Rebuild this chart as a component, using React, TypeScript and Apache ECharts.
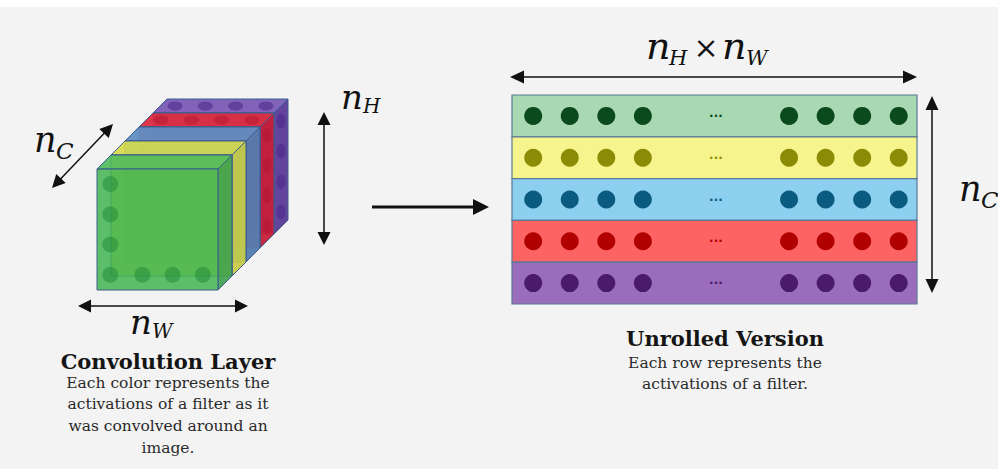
import React, { useEffect, useRef } from "react";
import * as echarts from "echarts";

// ---- Unrolled version data ----
const rowNames = ["Filter 1", "Filter 2", "Filter 3", "Filter 4", "Filter 5"];
const rowFill = ["#a9d9b3", "#f6f48d", "#8dcfee", "#fd6363", "#9a6cbc"];
const rowDot = ["#0b4a1d", "#8b8b05", "#0b5b80", "#b10000", "#4a1b6a"];
const dotColumns = [0, 1, 2, 3, 7, 8, 9, 10];
const ellipsisColumn = 5;
const columnMin = -0.58;
const columnMax = 10.5;

// ---- Convolution layer (cube) data, front to back ----
const cubeLayers = ["green", "yellow", "blue", "red", "purple"];
const layerFront = ["rgba(66,180,80,0.86)", "rgba(214,216,74,0.9)", "rgba(60,168,228,0.9)", "rgba(220,40,62,0.9)", "rgba(112,84,176,0.92)"];
const layerTop = ["rgba(80,186,90,0.9)", "rgba(214,216,76,0.92)", "rgba(96,142,194,0.95)", "rgba(220,44,64,0.95)", "rgba(122,92,182,0.95)"];
const layerSide = ["rgba(60,160,76,0.9)", "rgba(200,202,68,0.92)", "rgba(84,124,176,0.95)", "rgba(198,30,56,0.95)", "rgba(90,58,152,0.95)"];
const cubeDotColor = ["rgba(24,130,50,0.55)", "", "", "rgba(170,20,45,0.55)", "rgba(78,40,140,0.75)"];
const layerDepth = 0.1157;
const cellCenters = [0.125, 0.375, 0.625, 0.875];

const SERIF = "'DejaVu Serif', 'Liberation Serif', serif";

function arrow(x1: number, y1: number, x2: number, y2: number, opts: any = {}) {
  const { both = true, lw = 1.5, hl = 12, hw = 6, color = "#111" } = opts;
  const dx = x2 - x1, dy = y2 - y1;
  const len = Math.hypot(dx, dy);
  const ux = dx / len, uy = dy / len;
  const px = -uy, py = ux;
  const head = (tx: number, ty: number, sx: number, sy: number) => ({
    type: "polygon",
    shape: {
      points: [
        [tx, ty],
        [tx - sx * hl + px * hw, ty - sy * hl + py * hw],
        [tx - sx * hl - px * hw, ty - sy * hl - py * hw],
      ],
    },
    style: { fill: color },
  });
  const els: any[] = [
    {
      type: "line",
      shape: {
        x1: both ? x1 + ux * (hl - 1) : x1,
        y1: both ? y1 + uy * (hl - 1) : y1,
        x2: x2 - ux * (hl - 1),
        y2: y2 - uy * (hl - 1),
      },
      style: { stroke: color, lineWidth: lw },
    },
    head(x2, y2, ux, uy),
  ];
  if (both) els.push(head(x1, y1, -ux, -uy));
  return els;
}

function mathLabel(x: number, y: number, main: string, sub: string, size: number, subSize: number, subDx: number, subDy: number) {
  return [
    {
      type: "text",
      x,
      y,
      style: { text: main, fontSize: size, fontFamily: SERIF, fontStyle: "italic", fill: "#111", align: "left", verticalAlign: "middle" },
    },
    {
      type: "text",
      x: x + subDx,
      y: y + subDy,
      style: { text: sub, fontSize: subSize, fontFamily: SERIF, fontStyle: "italic", fill: "#111", align: "left", verticalAlign: "middle" },
    },
  ];
}

function centeredText(x: number, y: number, text: string, size: number, bold: boolean, lineHeight: number, color: string) {
  return {
    type: "text",
    x,
    y,
    style: {
      text,
      fontSize: size,
      fontFamily: SERIF,
      fontWeight: bold ? "bold" : "normal",
      fill: color,
      align: "center",
      verticalAlign: "top",
      lineHeight,
    },
  };
}

export default function App() {
  const ref = useRef<HTMLDivElement>(null);

  useEffect(() => {
    if (!ref.current) return;
    const chart = echarts.init(ref.current, null, { renderer: "svg" });
    const d = layerDepth;
    const cubeMax = 1 + cubeLayers.length * d;

    const frontDotsData: number[][] = [];
    cellCenters.forEach((c) => frontDotsData.push([0.11, c]));
    cellCenters.slice(1).forEach((c) => frontDotsData.push([c, 0.125]));
    const topDots = (k: number) => cellCenters.map((c) => [c + (k + 0.5) * d, 1 + (k + 0.5) * d]);
    const sideDots = (k: number) => cellCenters.map((c) => [1 + (k + 0.5) * d, c + (k + 0.5) * d]);

    const series: any[] = [];

    // Unrolled rows background + ellipsis
    series.push({
      type: "custom",
      xAxisIndex: 0,
      yAxisIndex: 0,
      data: rowNames.map((_, i) => [columnMin, i]),
      encode: { x: 0, y: 1 },
      renderItem: (params: any, api: any) => {
        const i = api.value(1);
        const p0 = api.coord([columnMin, i]);
        const p1 = api.coord([columnMax, i]);
        const h = api.size([0, 1])[1];
        const pe = api.coord([ellipsisColumn, i]);
        return {
          type: "group",
          children: [
            {
              type: "rect",
              shape: { x: p0[0], y: p0[1] - h / 2, width: p1[0] - p0[0], height: h },
              style: { fill: rowFill[i], stroke: "#5b7896", lineWidth: 1.2 },
            },
            {
              type: "text",
              x: pe[0],
              y: pe[1] - 3,
              style: { text: "...", fontSize: 12, fontWeight: "bold", fontFamily: "'DejaVu Sans', sans-serif", fill: rowDot[i], align: "center", verticalAlign: "middle" },
            },
          ],
        };
      },
      silent: true,
    });

    rowNames.forEach((name, i) => {
      series.push({
        type: "scatter",
        name,
        xAxisIndex: 0,
        yAxisIndex: 0,
        symbol: "circle",
        symbolSize: 18,
        itemStyle: { color: rowDot[i], opacity: 1 },
        data: dotColumns.map((c) => [c, i]),
        silent: true,
      });
    });

    // Cube slabs, back to front
    series.push({
      type: "custom",
      xAxisIndex: 1,
      yAxisIndex: 1,
      data: cubeLayers.map((_, k) => [cubeLayers.length - 1 - k, cubeLayers.length - 1 - k]),
      encode: { x: 0, y: 1 },
      renderItem: (params: any, api: any) => {
        const k = api.value(0);
        const c = (x: number, y: number) => api.coord([x, y]);
        const f = k * d;
        const b = (k + 1) * d;
        const stroke = "#3d5f8e";
        return {
          type: "group",
          children: [
            {
              type: "polygon",
              shape: { points: [c(f + 1, f), c(b + 1, b), c(b + 1, b + 1), c(f + 1, f + 1)] },
              style: { fill: layerSide[k], stroke, lineWidth: 1 },
            },
            {
              type: "polygon",
              shape: { points: [c(f, f + 1), c(f + 1, f + 1), c(b + 1, b + 1), c(b, b + 1)] },
              style: { fill: layerTop[k], stroke, lineWidth: 1 },
            },
            {
              type: "polygon",
              shape: { points: [c(f, f), c(f + 1, f), c(f + 1, f + 1), c(f, f + 1)] },
              style: { fill: layerFront[k], stroke, lineWidth: 1 },
            },
          ],
        };
      },
      silent: true,
    });

    series.push({
      type: "scatter",
      xAxisIndex: 1,
      yAxisIndex: 1,
      symbolSize: 16,
      itemStyle: { color: cubeDotColor[0] },
      data: frontDotsData,
      silent: true,
    });
    [4, 3].forEach((k) => {
      series.push({
        type: "scatter",
        xAxisIndex: 1,
        yAxisIndex: 1,
        symbolSize: [15, 9],
        itemStyle: { color: cubeDotColor[k] },
        data: topDots(k),
        silent: true,
      });
      series.push({
        type: "scatter",
        xAxisIndex: 1,
        yAxisIndex: 1,
        symbolSize: [9, 15],
        itemStyle: { color: cubeDotColor[k] },
        data: sideDots(k),
        silent: true,
      });
    });

    const graphics: any[] = [
      { type: "rect", shape: { x: 0, y: 0, width: 998, height: 7 }, style: { fill: "#ffffff" }, z: -10 },
      ...arrow(52, 188, 113, 124, { hl: 13, hw: 6.5 }),
      ...arrow(324, 112, 324, 245, { hl: 13, hw: 6.5 }),
      ...arrow(78, 306, 248, 306, { hl: 13, hw: 6.5 }),
      ...arrow(372, 207, 489, 207, { both: false, lw: 2.8, hl: 16, hw: 8 }),
      ...arrow(510, 77, 917, 77, { hl: 14, hw: 6.5 }),
      ...arrow(932, 96, 932, 293, { hl: 14, hw: 6.5 }),
      ...mathLabel(646, 46, "n", "H", 38, 21, 23, 12),
      { type: "text", x: 706, y: 47, style: { text: "×", fontSize: 30, fontFamily: SERIF, fill: "#111", align: "center", verticalAlign: "middle" } },
      ...mathLabel(722, 46, "n", "W", 38, 21, 24, 12),
      ...mathLabel(34, 140, "n", "C", 35, 23, 22, 11),
      ...mathLabel(341, 97, "n", "H", 34, 20, 22, 9),
      ...mathLabel(130, 322, "n", "W", 34, 20, 22, 9),
      ...mathLabel(959, 189, "n", "C", 35, 23, 22, 11),
      centeredText(168, 350, "Convolution Layer", 21, true, 23, "#151515"),
      centeredText(168, 372, "Each color represents the\nactivations of a filter as it\nwas convolved around an\nimage.", 15.5, false, 21.6, "#2a2a2a"),
      centeredText(725, 327, "Unrolled Version", 21, true, 23, "#151515"),
      centeredText(725, 352, "Each row represents the\nactivations of a filter.", 15.5, false, 21, "#2a2a2a"),
    ];

    chart.setOption({
      animation: false,
      backgroundColor: "#f3f3f3",
      grid: [
        { left: 512, top: 95, width: 405, height: 209 },
        { left: 97, top: 99, width: 191, height: 191 },
      ],
      xAxis: [
        { type: "value", gridIndex: 0, min: columnMin, max: columnMax, show: false },
        { type: "value", gridIndex: 1, min: 0, max: cubeMax, show: false },
      ],
      yAxis: [
        { type: "category", gridIndex: 0, data: rowNames, inverse: true, show: false },
        { type: "value", gridIndex: 1, min: 0, max: cubeMax, show: false },
      ],
      graphic: { elements: graphics },
      series,
    });

    return () => chart.dispose();
  }, []);

  return <div ref={ref} style={{ position: "fixed", left: 0, top: 0, width: 998, height: 469 }} />;
}
